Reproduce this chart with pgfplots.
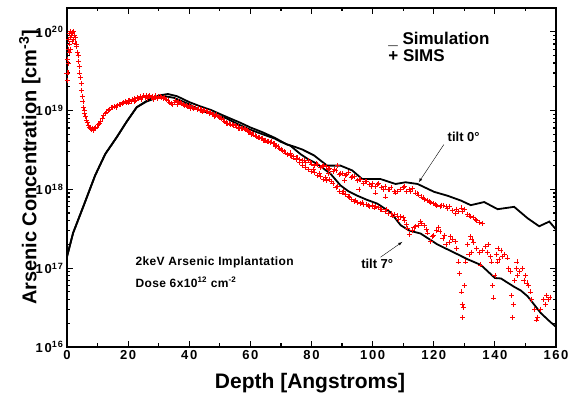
\documentclass[border=0pt]{standalone}
\usepackage{fontspec}
\setmainfont{Liberation Sans}
\usepackage{pgfplots}
\pgfplotsset{compat=1.18}
\usepackage{pgfplotstable}

% SIMS, near surface and bulk (both tilts)
\pgfplotstableread{
x y
0.0 3.0e19
0.1 2.4e19
0.2 4.5e19
0.3 3.0e19
0.4 6.0e19
0.5 4.0e19
0.6 8.0e19
0.7 5.5e19
0.8 9.5e19
0.9 7.0e19
1.0 8.5e19
1.1 6.0e19
1.2 1.0e20
1.4 9.0e19
1.6 7.5e19
1.8 9.8e19
2.0 8.0e19
2.2 1.0e20
2.4 9.0e19
2.6 7.2e19
2.8 8.5e19
3.0 6.5e19
3.2 7.0e19
3.4 5.5e19
3.6 5.0e19
3.8 4.2e19
4.0 3.6e19
4.2 3.0e19
4.4 2.6e19
4.6 2.2e19
4.8 1.8e19
5.0 1.5e19
5.2 1.3e19
5.4 1.1e19
5.6 1.0e19
5.8 9.2e18
6.0 8.5e18
6.3 7.6e18
6.6 7.0e18
7.0 6.5e18
7.3 6.1e18
7.6 5.9e18
8.0 5.7e18
8.3 6.0e18
8.6 5.6e18
9.0 5.9e18
9.4 6.1e18
9.8 6.2e18
10.2 6.6e18
10.6 6.8e18
11.0 7.3e18
11.5 7.9e18
12.0 8.6e18
12.5 9.1e18
13.0 9.6e18
13.5 1.0e19
14.0 1.04e19
14.5 1.09e19
15.0 1.1e19
15.5 1.13e19
16.0 1.1e19
16.5 1.16e19
17.0 1.19e19
17.5 1.2e19
18.0 1.23e19
18.5 1.26e19
19.0 1.31e19
19.5 1.27e19
20.0 1.33e19
20.5 1.36e19
21.0 1.3e19
21.5 1.39e19
22.0 1.42e19
22.5 1.36e19
23.0 1.46e19
23.5 1.41e19
24.0 1.52e19
24.5 1.45e19
25.0 1.53e19
25.5 1.47e19
26.0 1.56e19
26.5 1.5e19
27.0 1.54e19
27.5 1.45e19
28.0 1.52e19
28.5 1.47e19
29.0 1.53e19
29.5 1.44e19
30.0 1.49e19
30.5 1.52e19
31.0 1.46e19
31.5 1.41e19
32.0 1.45e19
32.5 1.38e19
33.0 1.34e19
33.5 1.28e19
34.0 1.23e19
34.5 1.19e19
35.0 1.28e19
35.5 1.33e19
36.0 1.27e19
36.5 1.3e19
37.0 1.25e19
37.5 1.22e19
38.0 1.2e19
38.5 1.17e19
39.0 1.15e19
39.5 1.13e19
40.0 1.15e19
40.5 1.1e19
41.0 1.1e19
41.5 1.07e19
42.0 1.08e19
42.5 1.04e19
43.0 1.05e19
43.5 1.02e19
44.0 1.02e19
44.5 9.9e18
45.0 1.0e19
45.5 9.7e18
46.0 9.8e18
46.5 9.3e18
47.0 9.5e18
47.5 9.0e18
48.0 9.0e18
48.5 8.7e18
49.0 8.8e18
49.5 8.4e18
50.0 8.2e18
50.5 7.9e18
51.0 7.7e18
51.5 7.3e18
52.0 7.1e18
52.5 6.9e18
53.0 6.8e18
53.5 6.6e18
54.0 6.6e18
54.5 6.4e18
55.0 6.4e18
55.5 6.2e18
56.0 6.2e18
56.5 6.0e18
57.0 6.0e18
57.5 5.9e18
58.0 5.9e18
58.5 5.7e18
59.0 5.6e18
59.5 5.4e18
60.0 5.3e18
60.5 5.1e18
61.0 4.9e18
61.5 4.8e18
62.0 4.7e18
62.5 4.6e18
63.0 4.5e18
63.5 4.4e18
64.0 4.4e18
64.5 4.2e18
65.0 4.2e18
65.5 4.0e18
66.0 4.1e18
66.5 3.9e18
67.0 4.0e18
67.5 3.8e18
68.0 3.8e18
68.5 3.6e18
69.0 3.5e18
69.5 3.3e18
70.0 3.2e18
70.5 3.1e18
71.0 3.0e18
71.5 2.9e18
72.0 2.8e18
20.2 1.25e19
22.2 1.3e19
24.2 1.38e19
26.2 1.42e19
28.2 1.4e19
36.2 1.2e19
40.2 1.06e19
44.2 9.6e18
48.2 8.5e18
52.2 6.8e18
56.2 5.9e18
60.2 5.0e18
64.2 4.2e18
68.2 3.5e18
}\simsA

% SIMS, tilt 0 branch
\pgfplotstableread{
x y
73 2.9e18
74 2.6e18
75 2.5e18
76 2.4e18
77 2.3e18
78 2.2e18
79 2.3e18
80 2.1e18
81 2.0e18
82 2.05e18
83 1.9e18
84 2.0e18
85 1.95e18
86 1.85e18
87 1.7e18
88 1.75e18
88.5 2.0e18
89 1.55e18
90 1.6e18
91 1.5e18
92 1.65e18
93 1.4e18
94 1.45e18
95 1.3e18
96 1.35e18
97 1.2e18
98 1.25e18
99 1.15e18
100 1.2e18
101 1.1e18
102 1.18e18
103 1.05e18
104 1.1e18
105 1.0e18
106 1.05e18
107 9.5e17
108 9.3e17
109 1.0e18
110 1.05e18
111 9.5e17
112 1.0e18
113 1.02e18
114 9.0e17
115 8.5e17
116 8.0e17
117 7.5e17
118 7.3e17
119 6.8e17
120 6.6e17
121 6.2e17
122 6.0e17
123 6.2e17
124 6.0e17
125 6.1e17
126 5.4e17
127 5.0e17
128 5.3e17
129 5.8e17
130 5.6e17
131 4.8e17
132 4.5e17
133 4.4e17
134 4.0e17
135 3.8e17
136 3.7e17
73.5 2.7e18
75.5 2.5e18
77.5 2.35e18
79.5 2.2e18
81.5 2.1e18
83.5 1.95e18
85.5 1.8e18
87.5 1.8e18
89.5 1.6e18
91.5 1.55e18
93.5 1.45e18
95.5 1.35e18
97.5 1.25e18
99.5 1.1e18
101.5 1.15e18
103.5 1.0e18
105.5 1.0e18
107.5 9.0e17
110.5 1.1e18
112.5 9.5e17
114.5 8.8e17
116.5 7.8e17
118.5 7.0e17
120.5 6.4e17
122.5 6.3e17
124.5 5.7e17
127.5 5.6e17
129.5 5.2e17
131.5 4.6e17
133.5 4.2e17
}\simsB

% SIMS, tilt 7 branch
\pgfplotstableread{
x y
73 2.7e18
74 2.5e18
75 2.4e18
76 2.2e18
77 2.0e18
78 1.9e18
79 1.8e18
80 1.7e18
81 1.65e18
82 1.5e18
83 1.45e18
84 1.35e18
85 1.3e18
86 1.35e18
87 1.2e18
88 1.05e18
89 9.5e17
90 9.0e17
91 8.7e17
92 8.2e17
93 7.5e17
94 7.0e17
95 6.8e17
96 6.6e17
97 6.5e17
98 6.4e17
99 6.0e17
100 6.2e17
101 6.0e17
102 5.9e17
103 5.5e17
104 5.3e17
105 5.0e17
106 4.9e17
107 4.8e17
108 4.6e17
109 4.5e17
110 4.4e17
111 3.6e17
112 2.7e17
113 3.0e17
114 3.4e17
115 3.5e17
116 3.7e17
117 3.5e17
118 2.8e17
119 2.2e17
120 2.6e17
121 3.0e17
122 2.9e17
123 2.4e17
124 2.0e17
125 2.1e17
126 2.3e17
127 2.2e17
128 1.2e17
128.5 8.5e16
129 5.0e16
129.3 3.5e16
129.5 2.4e16
129.7 3.2e16
130 6.0e16
130.5 1.2e17
131 2.0e17
132 2.5e17
132.2 1.6e17
133 2.1e17
134 1.8e17
135 1.6e17
135.4 1.1e17
136 1.7e17
137 1.9e17
138 2.0e17
138.5 1.4e17
139 1.2e17
139.3 6.0e16
139.6 4.2e16
140 8.0e16
140.5 1.5e17
141 1.8e17
141.3 1.3e17
142 1.7e17
143 1.5e17
144 1.35e17
144.5 1.0e17
145 9.0e16
145.5 4.5e16
145.8 2.4e16
146.1 3.5e16
146.5 7.0e16
147 1.0e17
147.5 8.0e16
148 9.0e16
149 1.0e17
150 8.0e16
150.5 6.5e16
151 6.0e16
152 4.0e16
153 3.0e16
153.5 2.2e16
154 2.4e16
155 3.0e16
156 4.0e16
157 4.5e16
158 4.3e16
80.5 1.8e18
82.5 1.6e18
84.5 1.4e18
85.5 1.6e18
86.5 1.25e18
88.5 1.1e18
90.5 9.5e17
90.8 1.3e18
92.5 8.0e17
94.5 7.2e17
95.5 1.0e18
96.5 6.9e17
98.5 6.2e17
100.5 5.8e17
100.8 9.0e17
102.5 5.6e17
104.2 8.0e17
104.5 5.5e17
106.5 4.6e17
108.5 4.2e17
110.5 4.0e17
111.5 3.2e17
113.5 3.3e17
115.5 3.9e17
117.5 3.1e17
119.5 2.5e17
121.5 3.3e17
123.5 2.6e17
125.5 2.5e17
127.5 1.8e17
131.5 1.5e17
132.5 2.3e17
137.5 1.6e17
140.8 1.2e17
142.5 1.4e17
147.2 1.2e17
149.5 7.0e16
151.5 5.0e16
156.5 3.5e16
157.5 4.0e16
}\simsC

\begin{document}
\begin{tikzpicture}
\begin{axis}[
  scale only axis, width=489pt, height=339pt,
  xmin=0, xmax=160, ymode=log, ymin=1e16, ymax=2e20,
  xtick distance=20, minor x tick num=1,
  ytick={1e16,1e17,1e18,1e19,1e20},
  yticklabels={10\textsuperscript{16},10\textsuperscript{17},10\textsuperscript{18},10\textsuperscript{19},10\textsuperscript{20}},
  tick align=inside, major tick length=6pt, minor tick length=3.5pt,
  axis line style={line width=1.6pt},
  every tick/.style={black, line width=1.2pt},
  /pgf/number format/assume math mode=true,
  tick label style={font=\fontsize{13}{13}\selectfont\bfseries\addfontfeature{LetterSpace=12}},
  xlabel={Depth [Angstroms]},
  ylabel={Arsenic Concentration [cm\textsuperscript{-3}]},
  xlabel style={font=\fontsize{21}{21}\selectfont\bfseries, at={(axis description cs:0.497,-0.106)}, anchor=center},
  ylabel style={font=\fontsize{20}{20}\selectfont\bfseries, at={(axis description cs:-0.076,0.53)}, anchor=center},
]
  \addplot[only marks, mark=+, mark size=2.5pt, red, mark options={solid, red, line width=0.7pt}] table {\simsA};
  \addplot[only marks, mark=+, mark size=2.5pt, red, mark options={solid, red, line width=0.7pt}] table {\simsB};
  \addplot[only marks, mark=+, mark size=2.5pt, red, mark options={solid, red, line width=0.7pt}] table {\simsC};
  % simulation, tilt 0
  \addplot[black, line width=1.8pt] coordinates {
   (0,1.4e17)(2,2.8e17)(5.3,6.0e17)(9.2,1.5e18)(12.5,2.8e18)(16.3,4.6e18)(19.5,7.2e18)
   (22.8,1.1e19)(26,1.32e19)(30,1.55e19)(33,1.62e19)(36,1.52e19)(40,1.28e19)(43.6,1.13e19)
   (47,1.02e19)(51,8.7e18)(56.7,7.0e18)(60,6.1e18)(64,5.3e18)(68,4.5e18)(72,3.7e18)
   (74.2,3.5e18)(77,3.2e18)(80.8,2.7e18)(85.1,2.0e18)(89.5,2.0e18)(93.3,1.74e18)(96.6,1.35e18)
   (102.6,1.35e18)(107.5,1.17e18)(110.8,1.23e18)(114.7,1.17e18)(120.1,9.3e17)(124.5,8.3e17)
   (128.9,7.2e17)(132.1,6.3e17)(136.5,6.9e17)(140.9,5.6e17)(146.3,6.0e17)(150.7,4.3e17)
   (154.5,3.4e17)(157.8,3.9e17)(160,3.1e17)};
  % simulation, tilt 7
  \addplot[black, line width=1.8pt] coordinates {
   (0,1.4e17)(2,2.8e17)(5.3,6.0e17)(9.2,1.5e18)(12.5,2.8e18)(16.3,4.6e18)(19.5,7.2e18)
   (22.8,1.1e19)(26,1.3e19)(30,1.48e19)(32,1.52e19)(35,1.45e19)(40,1.2e19)(43.6,1.0e19)
   (48,9.0e18)(52,8.0e18)(56.7,6.5e18)(60,5.7e18)(64,5.0e18)(68,4.4e18)(70,4.0e18)
   (73,3.6e18)(76.4,2.8e18)(79,2.4e18)(81.9,2.1e18)(86.2,1.58e18)(89.5,1.12e18)(92,9.5e17)
   (95,8.3e17)(98,7.4e17)(101.5,6.6e17)(105.9,5.1e17)(109.2,3.5e17)(112,3.0e17)(115.7,2.75e17)
   (121.2,2.0e17)(127.8,1.5e17)(131,1.3e17)(135.4,1.1e17)(140,7.5e16)(142,7.4e16)(144,6.6e16)
   (146.3,5.8e16)(148.5,5.2e16)(150.7,4.4e16)(152,3.8e16)(155,2.7e16)(158,2.1e16)(160,1.8e16)};
  % annotations
  \node[anchor=west, font=\fontsize{12}{12}\selectfont\bfseries\addfontfeature{LetterSpace=3}] at (axis cs:21.3,1.2e17) {2keV Arsenic Implantation};
  \node[anchor=west, font=\fontsize{12}{12}\selectfont\bfseries\addfontfeature{LetterSpace=3}] at (axis cs:21.3,6.6e16) {Dose 6x10\textsuperscript{12} cm\textsuperscript{-2}};
  \node[anchor=west, font=\fontsize{17}{17}\selectfont\bfseries] at (axis cs:104,8.1e19) {\_ Simulation};
  \node[anchor=west, font=\fontsize{17}{17}\selectfont\bfseries] at (axis cs:104,5.0e19) {+ SIMS};
  \node[font=\fontsize{13}{13}\selectfont\bfseries] at (axis cs:129.8,4.6e18) {tilt 0°};
  \node[font=\fontsize{13}{13}\selectfont\bfseries] at (axis cs:101.5,1.15e17) {tilt 7°};
  \draw[-latex, thin] (axis cs:123.3,3.7e18) -- (axis cs:115.1,1.23e18);
  \draw[-latex, thin] (axis cs:102.6,1.38e17) -- (axis cs:109.7,2.15e17);
\end{axis}
\pgfresetboundingbox
\path (current axis.south west) ++(-67pt,-57pt) rectangle ++(572pt,404pt);
\end{tikzpicture}
\end{document}
